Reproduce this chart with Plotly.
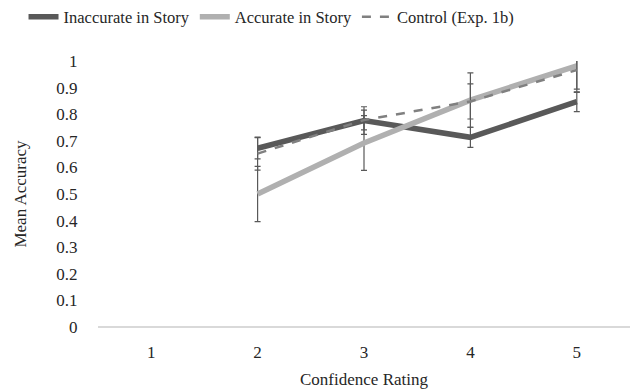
import plotly.graph_objects as go

categories = ["1", "2", "3", "4", "5"]

inaccurate = [None, 0.672, 0.776, 0.713, 0.847]
inaccurate_err = [None, 0.040, 0.052, 0.038, 0.037]

accurate = [None, 0.500, 0.692, 0.853, 0.982]
accurate_err = [None, 0.104, 0.103, 0.102, 0.100]

control = [None, 0.652, 0.778, 0.848, 0.966]
control_err = [None, 0.062, 0.037, 0.066, 0.072]

y_ticks = [0, 0.1, 0.2, 0.3, 0.4, 0.5, 0.6, 0.7, 0.8, 0.9, 1]
y_tick_labels = ["0", "0.1", "0.2", "0.3", "0.4", "0.5", "0.6", "0.7", "0.8", "0.9", "1"]

FONT = "Liberation Serif"
ERR_COLOR = "#595959"
TXT = "#262626"

fig = go.Figure()


def err(vals):
    return dict(type="data", array=[v if v is not None else 0 for v in vals],
                visible=True, color=ERR_COLOR, thickness=1.2, width=3)


fig.add_trace(go.Scatter(
    x=categories, y=inaccurate, name="Inaccurate in Story", mode="lines",
    line=dict(color="#595959", width=5.5), error_y=err(inaccurate_err),
))
fig.add_trace(go.Scatter(
    x=categories, y=accurate, name="Accurate in Story", mode="lines",
    line=dict(color="#b0b0b0", width=5.5), error_y=err(accurate_err),
))
fig.add_trace(go.Scatter(
    x=categories, y=control, name="Control (Exp. 1b)", mode="lines",
    line=dict(color="#808080", width=2.5, dash="dash"), error_y=err(control_err),
))

fig.update_layout(
    width=632, height=381,
    margin=dict(l=90, r=10, t=53, b=62, autoexpand=False),
    paper_bgcolor="white", plot_bgcolor="white",
    font=dict(family=FONT, size=17, color=TXT),
    showlegend=True,
    legend=dict(orientation="h", x=-0.140, xanchor="left", y=1.165, yanchor="middle",
                font=dict(family=FONT, size=16.5, color=TXT),
                itemwidth=30, tracegroupgap=0),
    xaxis=dict(
        type="category", range=[-0.5, 4.5],
        showgrid=False, showline=False, zeroline=False,
        ticks="outside", ticklen=10, tickcolor="rgba(0,0,0,0)",
        tickfont=dict(family=FONT, size=17, color=TXT),
        title=dict(text="Confidence Rating", font=dict(family=FONT, size=17, color=TXT), standoff=11),
    ),
    yaxis=dict(
        range=[0, 1.0], tickvals=y_ticks, ticktext=y_tick_labels,
        showgrid=False, showline=False, zeroline=True, zerolinecolor="#d9d9d9", zerolinewidth=1.5,
        ticks="outside", ticklen=16, tickcolor="rgba(0,0,0,0)",
        tickfont=dict(family=FONT, size=17, color=TXT),
        title=dict(text="Mean Accuracy", font=dict(family=FONT, size=17, color=TXT), standoff=25),
    ),
)

fig.write_html("out.html")
